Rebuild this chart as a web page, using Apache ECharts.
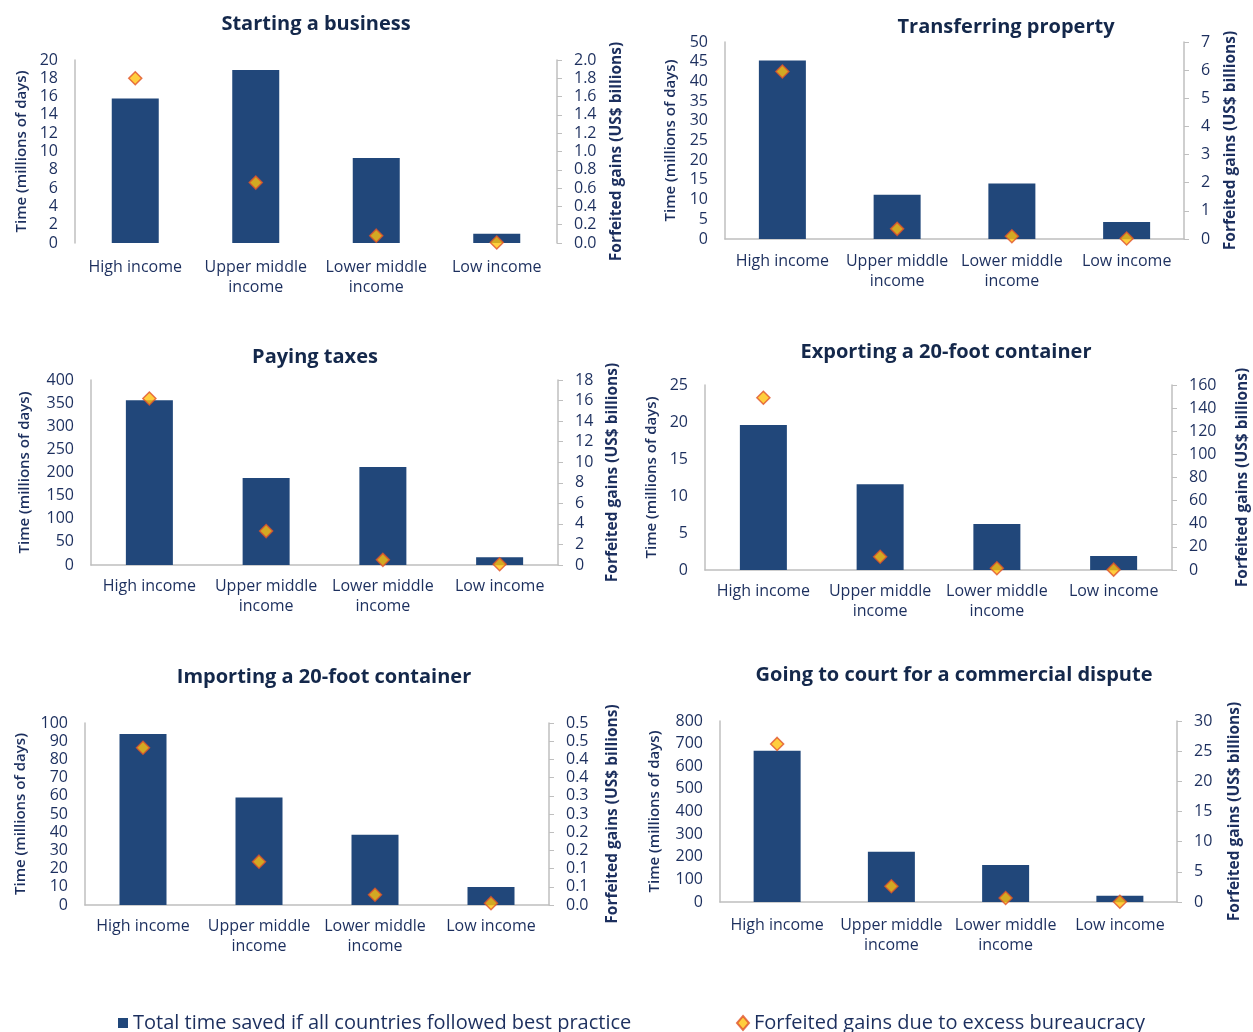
<!DOCTYPE html>
<html>
<head>
<meta charset="utf-8">
<script src="https://cdn.jsdelivr.net/npm/echarts@6.0.0/dist/echarts.min.js"></script>
<style>
  html, body { margin: 0; padding: 0; background: #fff; }
  #chart { width: 1253px; height: 1032px; }
</style>
</head>
<body>
<div id="chart"></div>
<script>
const categories = ['High income', 'Upper middle\nincome', 'Lower middle\nincome', 'Low income'];
const panelTitles = [
  'Starting a business',
  'Transferring property',
  'Paying taxes',
  'Exporting a 20-foot container',
  'Importing a 20-foot container',
  'Going to court for a commercial dispute'
];

// total time saved (millions of days)
const startingTime = [15.8, 18.9, 9.3, 1.0];
const propertyTime = [45.3, 11.2, 14.1, 4.3];
const taxesTime = [356, 188, 212, 17];
const exportTime = [19.6, 11.6, 6.2, 1.9];
const importTime = [94, 59, 38.6, 9.9];
const courtTime = [668, 222, 163, 28];

// forfeited gains (US$ billions)
const startingGains = [1.80, 0.66, 0.08, 0.005];
const propertyGains = [5.95, 0.36, 0.10, 0.02];
const taxesGains = [16.2, 3.3, 0.5, 0.07];
const exportGains = [149, 11.5, 1.5, 0.3];
const importGains = [0.432, 0.119, 0.028, 0.005];
const courtGains = [26.2, 2.6, 0.66, 0.05];

// axis ticks
const timeMax = [20, 50, 400, 25, 100, 800];
const timeStep = [2, 5, 50, 5, 10, 100];
const gainsMax = [2, 7, 18, 160, 0.5, 30];
const gainsStep = [0.2, 1, 2, 20, 0.05, 5];
const gainsDecimals = [1, 0, 0, 0, 1, 0];

const timeSeries = [startingTime, propertyTime, taxesTime, exportTime, importTime, courtTime];
const gainsSeries = [startingGains, propertyGains, taxesGains, exportGains, importGains, courtGains];

const barName = 'Total time saved if all countries followed best practice';
const dotName = 'Forfeited gains due to excess bureaucracy';

// layout of each panel
const layout = [
  { left: 75, width: 482, top: 60, height: 183, titleX: 311, titleY: 9, leftGap: 46, rightGap: 52, labelMargin: 14, xLine: false },
  { left: 725, width: 459, top: 42, height: 197, titleX: 1001, titleY: 12, leftGap: 47, rightGap: 39, labelMargin: 12, xLine: true },
  { left: 91, width: 467, top: 380, height: 185, titleX: 310, titleY: 342, leftGap: 59, rightGap: 47, labelMargin: 11, xLine: true },
  { left: 705, width: 467, top: 385, height: 185, titleX: 941, titleY: 337, leftGap: 46, rightGap: 63, labelMargin: 11, xLine: true },
  { left: 85, width: 464, top: 723, height: 182, titleX: 319, titleY: 662, leftGap: 57, rightGap: 56, labelMargin: 11, xLine: true },
  { left: 720, width: 457, top: 721, height: 181, titleX: 949, titleY: 660, leftGap: 58, rightGap: 50, labelMargin: 13, xLine: true }
];

const navy = '#1c2f5e';
const barColor = '#21477a';
const lineGray = '#bfbfbf';
const fontFamily = '"Open Sans", "DejaVu Sans", sans-serif';

const chart = echarts.init(document.getElementById('chart'));

let titles = [], grids = [], xAxes = [], yAxes = [], series = [];

layout.forEach((p, i) => {
  titles.push({
    text: panelTitles[i],
    left: p.titleX,
    top: p.titleY,
    textAlign: 'center',
    textStyle: { fontFamily: fontFamily, fontSize: 20, fontWeight: 'bold', color: '#14284b' }
  });
  grids.push({ left: p.left, top: p.top, width: p.width, height: p.height, containLabel: false });
  xAxes.push({
    type: 'category',
    gridIndex: i,
    data: categories,
    axisTick: { show: false },
    axisLine: { show: p.xLine, lineStyle: { color: lineGray, width: 1.5 } },
    axisLabel: { interval: 0, margin: p.labelMargin, color: navy, fontFamily: fontFamily, fontSize: 16, lineHeight: 20 }
  });
  const dec = gainsDecimals[i];
  yAxes.push({
    type: 'value',
    gridIndex: i,
    position: 'left',
    min: 0,
    max: timeMax[i],
    interval: timeStep[i],
    name: 'Time (millions of days)',
    nameLocation: 'middle',
    nameRotate: 90,
    nameGap: p.leftGap,
    nameTextStyle: { color: navy, fontFamily: fontFamily, fontSize: 15, fontWeight: 600 },
    axisLine: { show: true, lineStyle: { color: lineGray, width: 1.5 } },
    axisTick: { show: false },
    splitLine: { show: false },
    axisLabel: { margin: 17, color: navy, fontFamily: fontFamily, fontSize: 16 }
  });
  yAxes.push({
    type: 'value',
    gridIndex: i,
    position: 'right',
    min: 0,
    max: gainsMax[i],
    interval: gainsStep[i],
    name: 'Forfeited gains (US$ billions)',
    nameLocation: 'middle',
    nameRotate: 90,
    nameGap: p.rightGap,
    nameTextStyle: { color: navy, fontFamily: fontFamily, fontSize: 15.5, fontWeight: 'bold' },
    axisLine: { show: true, lineStyle: { color: lineGray, width: 1.5 } },
    axisTick: { show: true, length: 5, lineStyle: { color: lineGray } },
    splitLine: { show: false },
    axisLabel: {
      margin: 17, color: navy, fontFamily: fontFamily, fontSize: 16,
      formatter: v => (Math.round(v * Math.pow(10, dec)) / Math.pow(10, dec)).toFixed(dec)
    }
  });
  series.push({
    name: barName,
    type: 'bar',
    xAxisIndex: i,
    yAxisIndex: 2 * i,
    data: timeSeries[i],
    barWidth: 47,
    itemStyle: { color: barColor },
    z: 2
  });
  series.push({
    name: dotName,
    type: 'scatter',
    xAxisIndex: i,
    yAxisIndex: 2 * i + 1,
    data: gainsSeries[i],
    symbol: 'diamond',
    symbolSize: 13,
    itemStyle: { color: '#ffc20e', borderColor: '#e0522a', borderWidth: 1.5 },
    z: 5
  });
});

const option = {
  animation: false,
  backgroundColor: '#ffffff',
  title: titles,
  grid: grids,
  xAxis: xAxes,
  yAxis: yAxes,
  legend: [
    {
      data: [{ name: barName, icon: 'rect' }],
      left: 113,
      top: 1008,
      itemWidth: 10,
      itemHeight: 10,
      textStyle: { color: navy, fontFamily: fontFamily, fontSize: 20 }
    },
    {
      data: [{ name: dotName, icon: 'diamond' }],
      left: 731,
      top: 1008,
      itemWidth: 12,
      itemHeight: 14,
      textStyle: { color: navy, fontFamily: fontFamily, fontSize: 20 }
    }
  ],
  series: series
};

chart.setOption(option);
</script>
</body>
</html>
